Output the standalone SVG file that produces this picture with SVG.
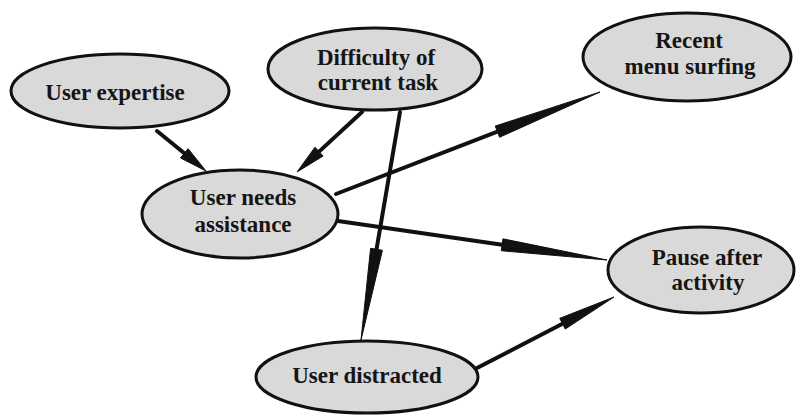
<svg xmlns="http://www.w3.org/2000/svg" width="800" height="418" viewBox="0 0 800 418">
<style>
.node ellipse{fill:#d9d9d9;stroke:#111;stroke-width:3}
.node text{font-family:"Liberation Serif","Times New Roman",serif;font-weight:bold;font-size:23px;fill:#151515;text-anchor:middle}
.edge line{stroke:#111;stroke-width:4;stroke-linecap:round}
.edge polygon{fill:#111;stroke:#111;stroke-width:1;stroke-linejoin:round}
</style>
<rect width="800" height="418" fill="#ffffff"/>
<g id="connectors">
<g class="edge" id="e-expertise-needs"><line x1="157" y1="131" x2="184.3" y2="153.3"/><polygon points="180.5,157.95 188.1,148.65 206,171"/></g>
<g class="edge" id="e-difficulty-needs"><line x1="362" y1="112" x2="319.05" y2="151.65"/><polygon points="314.98,147.24 323.12,156.06 297,172"/></g>
<g class="edge" id="e-difficulty-distracted"><line x1="400" y1="112" x2="376.51" y2="249.31"/><polygon points="370.6,248.3 382.42,250.32 361,340"/></g>
<g class="edge" id="e-needs-recent"><line x1="336" y1="194" x2="497.4" y2="131.65"/><polygon points="499.56,137.25 495.24,126.05 600,92"/></g>
<g class="edge" id="e-needs-pause"><line x1="338" y1="221" x2="502.1" y2="244.79"/><polygon points="501.24,250.73 502.96,238.85 607,260"/></g>
<g class="edge" id="e-distracted-pause"><line x1="477" y1="368" x2="562.5" y2="323.69"/><polygon points="565.26,329.02 559.74,318.36 614,297"/></g>
</g>
<g class="node" id="user-expertise"><ellipse cx="120" cy="91" rx="109" ry="37"/><text x="115" y="100">User expertise</text></g>
<g class="node" id="difficulty"><ellipse cx="375" cy="69" rx="107" ry="41"/><text x="376" y="65">Difficulty of</text><text x="378" y="90">current task</text></g>
<g class="node" id="recent-menu"><ellipse cx="687" cy="57" rx="104" ry="44"/><text x="689" y="48">Recent</text><text x="690" y="74">menu surfing</text></g>
<g class="node" id="user-needs"><ellipse cx="240" cy="214" rx="98" ry="44"/><text x="243" y="205">User needs</text><text x="243" y="232">assistance</text></g>
<g class="node" id="pause-after"><ellipse cx="701" cy="270" rx="93" ry="43"/><text x="707" y="265">Pause after</text><text x="708" y="290">activity</text></g>
<g class="node" id="user-distracted"><ellipse cx="367" cy="377" rx="111" ry="36"/><text x="367" y="383">User distracted</text></g>
</svg>
